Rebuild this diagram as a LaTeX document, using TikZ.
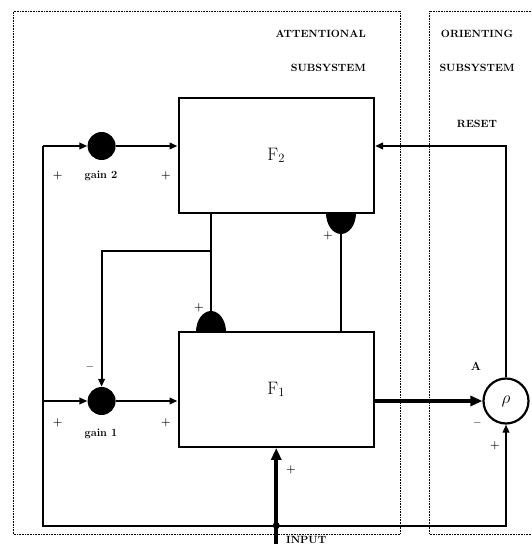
\documentclass[tikz,border=0pt]{standalone}
\usepackage{fontspec}
\usepackage{tikz}
\usetikzlibrary{positioning, arrows.meta, calc}

\begin{document}
\begin{tikzpicture}[
    x=1pt, y=1pt,
    >={Triangle[length=8pt, width=6.5pt]},
    layerbox/.style={draw, line width=2pt, rectangle, minimum width=195.5pt, minimum height=115pt, font=\fontsize{18}{20}\selectfont},
    gaindot/.style={circle, fill, inner sep=0pt, minimum size=28pt},
    matchnode/.style={circle, draw, line width=2.2pt, inner sep=0pt, minimum size=45pt, font=\fontsize{18}{20}\selectfont},
    region/.style={draw, densely dotted, line width=0.6pt},
    wire/.style={line width=2pt},
    bigwire/.style={line width=4pt, >={Triangle[length=12pt, width=10pt]}},
    titlelbl/.style={font=\fontsize{10.5}{33.5}\selectfont\bfseries, inner sep=0pt},
    smalllbl/.style={font=\fontsize{11}{12}\selectfont\bfseries, inner sep=0pt},
    signlbl/.style={font=\fontsize{11}{11}\selectfont\bfseries, inner sep=0pt},
]
\useasboundingbox (0,0) rectangle (531,544);

% subsystem regions
\draw[region] (13.5,10) rectangle (400.5,533);
\draw[region] (531,533) -- (429,533) -- (429,10) -- (531,10);
\node[titlelbl, align=right, anchor=east] (atttitle) at (366,493) {ATTENTIONAL\\SUBSYSTEM};
\node[titlelbl, align=center] (orititle) at (477,493) {ORIENTING\\SUBSYSTEM};

% layers and gain units
\node[layerbox] (f2) at (276.25,388.5) {F\textsubscript{2}};
\node[layerbox] (f1) at (276.25,154.5) {F\textsubscript{1}};
\node[gaindot] (gaintwo) at (101.6,398) {};
\node[gaindot] (gainone) at (101.6,143) {};
\node[matchnode] (rho) at (506,143) {$\rho$};

\coordinate (tl) at (43,398);
\coordinate (bl) at (43,18.4);
\coordinate (jin) at (276.25,18.4);
\coordinate (inp) at (276.25,0);
\coordinate (brn) at (211,292.5);
\coordinate (domeup) at (211,233);
\coordinate (domedn) at (341,310);

% gain control loop
\draw[wire, ->] (tl) -- (gaintwo);
\draw[wire, ->] (gaintwo) -- (gaintwo -| f2.west);
\draw[wire, ->] (tl |- gainone) -- (gainone);
\draw[wire, ->] (gainone) -- (gainone -| f1.west);
\draw[wire, ->] (tl) -- (bl) -| (rho.south);
\fill (jin) circle (3.5pt);

% bottom-up and top-down paths
\fill (196,212) arc[start angle=180, end angle=0, x radius=15, y radius=21] -- cycle;
\fill (326,331) arc[start angle=180, end angle=360, x radius=15, y radius=21] -- cycle;
\draw[wire] (f2.south -| brn) -- (domeup);
\draw[wire, ->] (brn) -| (gainone.north);
\draw[wire] (domedn) -- (domedn |- f1.north);

% input, match and reset
\draw[bigwire, ->] (inp) -- (f1.south);
\draw[bigwire, ->] (rho -| f1.east) -- (rho.west);
\draw[wire, ->] (rho.north) |- (gaintwo -| f2.east);

% labels
\node[smalllbl] (gtwolbl) at (101,368) {gain 2};
\node[smalllbl] (gonelbl) at (101,110) {gain 1};
\node[titlelbl] (resetlbl) at (477,420) {RESET};
\node[font=\fontsize{12}{12}\selectfont\bfseries, inner sep=0pt] (albl) at (476,178) {A};
\node[titlelbl, anchor=south west] (inlbl) at (286,0.5) {INPUT};
\node[signlbl] (pa) at (57.6,368) {+};
\node[signlbl] (pb) at (166,368) {+};
\node[signlbl] (pc) at (57.6,121) {+};
\node[signlbl] (pd) at (166,121) {+};
\node[signlbl] (ma) at (90,177) {$-$};
\node[signlbl] (pe) at (328,308) {+};
\node[signlbl] (pf) at (199,236) {+};
\node[signlbl] (mb) at (477.5,121) {$-$};
\node[signlbl] (pg) at (495,98) {+};
\node[signlbl] (ph) at (291,74) {+};
\end{tikzpicture}
\end{document}
